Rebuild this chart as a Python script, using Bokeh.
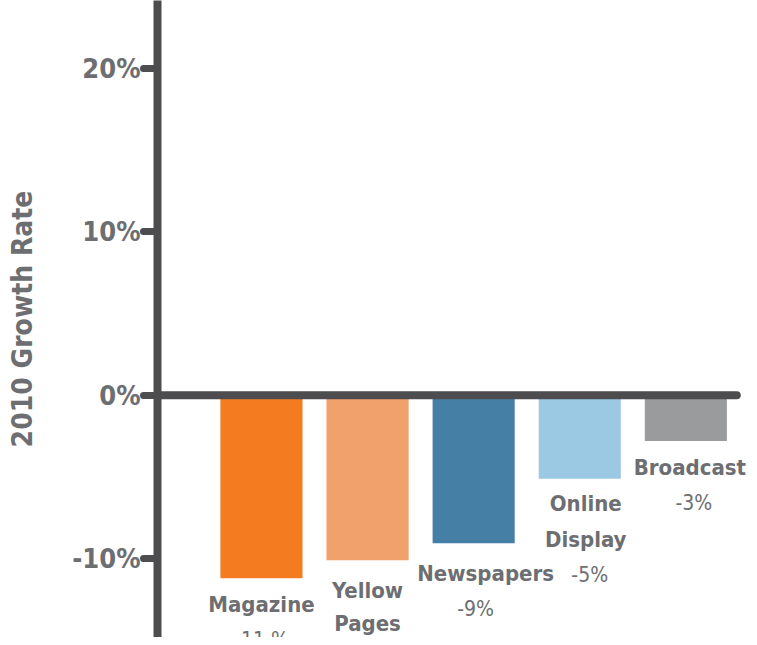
from bokeh.plotting import figure
from bokeh.models import FixedTicker, PrintfTickFormatter, ColumnDataSource, Range1d
from bokeh.core.properties import value
from bokeh.embed import file_html
from bokeh.resources import INLINE

categories = ["Magazine", "Yellow\nPages", "Newspapers", "Online\nDisplay", "Broadcast"]
growth = [-11.2, -10.1, -9.05, -5.1, -2.8]
value_labels = ["-11 %", "", "-9%", "-5%", "-3%"]
colors = ["#f47b20", "#f0a16c", "#467fa6", "#9bc8e3", "#9a9b9d"]
y_ticks = [-10, 0, 10, 20]

# layout nudges for the labels (screen px): (dx label, dx value, dy, line gap)
label_nudge = [(0, 0, 2, 36), (0, 0, 6, 33), (12, 2, 6, 36), (6, 10, 0, 36), (4, 8, 2, 36)]

FONT = "DejaVu Sans Condensed"
GRAY = "#6d6e71"
AXIS = "#4d4d4f"

xs = list(range(len(categories)))

p = figure(width=749, height=637, output_backend="svg", toolbar_location=None,
           x_range=Range1d(-0.98, 4.60), y_range=Range1d(-14.82, 24.16),
           x_axis_location=None, min_border_left=157, min_border_right=0,
           min_border_top=0, min_border_bottom=0)
p.grid.visible = False
p.outline_line_color = None
p.background_fill_color = "white"

ax = p.yaxis[0]
ax.ticker = FixedTicker(ticks=y_ticks)
ax.formatter = PrintfTickFormatter(format="%d%%")
ax.axis_line_width = 8
ax.axis_line_color = AXIS
ax.major_tick_line_width = 7
ax.major_tick_line_color = AXIS
ax.major_tick_line_cap = "round"
ax.major_tick_out = 14
ax.major_tick_in = 0
ax.minor_tick_line_color = None
ax.major_label_standoff = 3
ax.major_label_text_font = FONT
ax.major_label_text_font_style = "bold"
ax.major_label_text_font_size = "27px"
ax.major_label_text_color = GRAY
ax.axis_label = "2010 Growth Rate"
ax.axis_label_text_font = FONT
ax.axis_label_text_font_style = "bold"
ax.axis_label_text_font_size = "28px"
ax.axis_label_text_color = GRAY
ax.axis_label_standoff = 30

src = ColumnDataSource(dict(x=xs, top=[0] * len(xs), bottom=growth, color=colors))
p.vbar(x="x", top="top", bottom="bottom", width=0.774, fill_color="color",
       line_color=None, source=src)

# zero baseline
p.segment(x0=[-0.98], y0=[0], x1=[4.48], y1=[0], line_width=8,
          line_color=AXIS, line_cap="round")

# labels below the bars
lx, ly, lt, lo, lxo = [], [], [], [], []
vx, vy, vt, vo, vxo = [], [], [], [], []
for i, (c, g, v) in enumerate(zip(categories, growth, value_labels)):
    dxl, dxv, dy, gap = label_nudge[i]
    lines = c.split("\n")
    for j, ln in enumerate(lines):
        lx.append(i); ly.append(g); lt.append(ln)
        lo.append(12 + dy + gap * j); lxo.append(dxl)
    if v:
        vx.append(i); vy.append(g); vt.append(v)
        vo.append(12 + dy + gap * len(lines)); vxo.append(dxv)

p.text(x="x", y="y", text="t", y_offset="o", x_offset="xo",
       source=ColumnDataSource(dict(x=lx, y=ly, t=lt, o=lo, xo=lxo)),
       text_font=value(FONT), text_font_style="bold", text_font_size="22px",
       text_color=GRAY, text_align="center", text_baseline="top")
p.text(x="x", y="y", text="t", y_offset="o", x_offset="xo",
       source=ColumnDataSource(dict(x=vx, y=vy, t=vt, o=vo, xo=vxo)),
       text_font=value(FONT), text_font_style="normal", text_font_size="21px",
       text_color=GRAY, text_align="center", text_baseline="top")

open("out.html", "w").write(file_html(p, INLINE))
